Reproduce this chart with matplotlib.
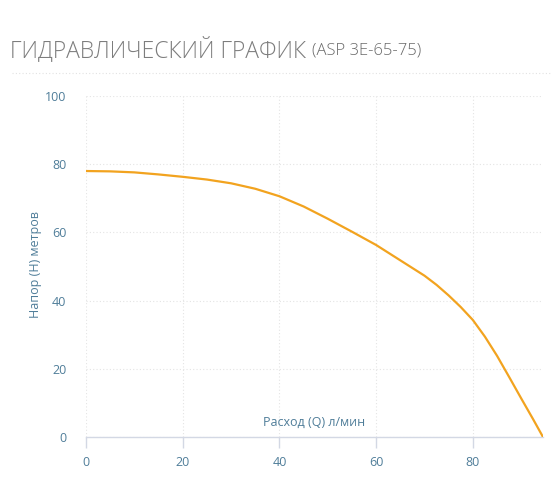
import matplotlib.pyplot as plt
from matplotlib.lines import Line2D

# === данные ===
flow = [0, 5, 10, 15, 20, 25, 30, 35, 40, 45, 50, 55, 60, 65, 70, 72.5, 75, 77.5,
        80, 82.5, 85, 87.5, 90, 92.5, 94.5]
head = [78, 77.9, 77.6, 77.0, 76.3, 75.5, 74.4, 72.8, 70.6, 67.6, 64.0, 60.2, 56.3, 51.8,
        47.3, 44.6, 41.5, 38.1, 34.3, 29.4, 23.8, 17.6, 11.3, 5.1, 0]
x_ticks = [0, 20, 40, 60, 80]
y_ticks = [0, 20, 40, 60, 80, 100]

tick_color = "#4f7d99"
line_color = "#f2a31f"

plt.rcParams["font.family"] = ["Open Sans", "DejaVu Sans"]

fig = plt.figure(figsize=(5.6, 5.04), dpi=100)
ax = fig.add_axes([86 / 560, 67 / 504, 457 / 560, 341 / 504])

ax.plot(flow, head, color=line_color, lw=1.6, solid_capstyle="round",
        solid_joinstyle="round", zorder=3)

ax.set_xlim(0, 94.5)
ax.set_ylim(0, 100)
ax.set_xticks(x_ticks)
ax.set_yticks(y_ticks)
ax.grid(True, color="#e4e4e4", lw=0.8, ls=(0, (1, 2)))

for s in ["top", "right", "left"]:
    ax.spines[s].set_visible(False)
ax.spines["bottom"].set_color("#d3d8e4")
ax.spines["bottom"].set_linewidth(1)

ax.tick_params(axis="x", colors="#d3d8e4", length=8, width=1, pad=6,
               labelcolor=tick_color, labelsize=9)
ax.tick_params(axis="y", length=0, pad=14, labelcolor=tick_color, labelsize=9)

ax.text(0.5, 0.025, "Расход (Q) л/мин", transform=ax.transAxes, ha="center",
        va="bottom", color=tick_color, fontsize=9)
fig.text(35 / 560, 1 - 265 / 504, "Напор (H) метров", rotation=90, ha="center",
         va="center", color=tick_color, fontsize=9)

# заголовок
t = fig.text(10 / 560, 1 - 50 / 504, "ГИДРАВЛИЧЕСКИЙ ГРАФИК", ha="left", va="center",
             color="#7d7d7d", fontsize=16.5, fontweight="light")
fig.canvas.draw()
bb = t.get_window_extent()
fig.text((bb.x1 + 6) / 560, 1 - 50.5 / 504, "(ASP 3E-65-75)", ha="left", va="center",
         color="#6a6a6a", fontsize=12, fontweight="light")

fig.add_artist(Line2D([12 / 560, 552 / 560], [1 - 73 / 504] * 2, color="#e2e2e2",
                      lw=0.8, ls=(0, (1, 2))))

fig.savefig("out.png", dpi=100)
